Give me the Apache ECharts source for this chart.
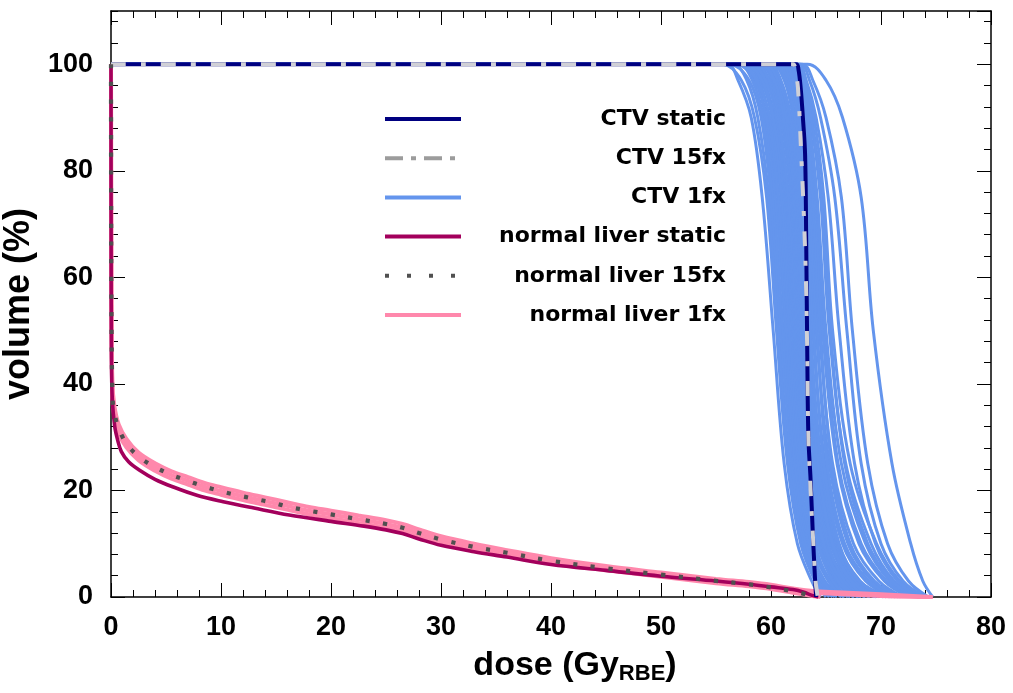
<!DOCTYPE html>
<html>
<head>
<meta charset="utf-8">
<script src="https://cdn.jsdelivr.net/npm/echarts@6/dist/echarts.min.js"></script>
<style>
  html, body { margin: 0; padding: 0; background: #fff; }
  #chart { width: 1013px; height: 693px; }
</style>
</head>
<body>
<div id="chart"></div>
<script>
// Dose-volume histograms: CTV and normal liver, static vs. 15 fractions vs. single fractions

const FONT = '"Liberation Sans", Arial, Helvetica, sans-serif';
const LEGEND_FONT = '"DejaVu Sans", "Liberation Sans", sans-serif';

// CTV static plan
const ctvStaticDose = [0, 62.3, 62.5, 62.7, 62.9, 63.1, 63.2, 63.3, 63.4, 63.6, 63.8, 64.0, 64.1];
const ctvStaticVol  = [100, 100, 99, 95.5, 90, 83, 67, 45, 30, 22, 12, 3.5, 0];

// CTV accumulated over 15 fractions
const ctv15Dose = [0, 62.0, 62.2, 62.45, 62.75, 63.0, 63.17, 63.3, 63.4, 63.6, 63.85, 64.05, 64.25];
const ctv15Vol  = [100, 100, 99, 95.6, 83, 71, 60, 45, 30, 20, 10, 3, 0];

// CTV single fractions: dose (Gy) reached at each volume level
const ctv1fxLevels = [100, 97, 90, 75, 50, 25, 10, 3, 0];
const ctv1fxDoses = [
  [56.0, 57.0, 58.2, 59.2, 60.2, 61.2, 62.4, 63.7, 64.5],
  [55.6, 57.3, 58.5, 59.6, 60.5, 61.5, 62.7, 64.0, 65.0],
  [56.5, 57.8, 58.8, 59.8, 60.7, 61.7, 62.9, 64.2, 65.3],
  [56.2, 58.0, 59.1, 60.0, 60.9, 61.9, 63.0, 64.4, 65.6],
  [57.0, 58.3, 59.3, 60.2, 61.1, 62.1, 63.2, 64.6, 66.0],
  [56.8, 58.5, 59.5, 60.4, 61.3, 62.2, 63.4, 64.9, 66.4],
  [57.3, 58.6, 59.6, 60.6, 61.4, 62.4, 63.5, 64.8, 65.8],
  [57.5, 58.9, 59.8, 60.7, 61.6, 62.5, 63.7, 65.2, 66.7],
  [57.1, 58.7, 59.9, 60.9, 61.7, 62.7, 63.9, 65.4, 67.2],
  [57.8, 59.1, 60.1, 61.0, 61.9, 62.8, 64.0, 65.3, 66.6],
  [58.0, 59.3, 60.3, 61.2, 62.0, 63.0, 64.2, 65.8, 67.5],
  [57.6, 59.2, 60.2, 61.3, 62.1, 63.1, 64.4, 66.0, 67.9],
  [58.3, 59.6, 60.5, 61.4, 62.2, 63.2, 64.3, 65.6, 67.0],
  [58.1, 59.5, 60.6, 61.5, 62.3, 63.3, 64.6, 66.3, 68.2],
  [58.6, 59.8, 60.7, 61.6, 62.4, 63.4, 64.7, 66.1, 67.6],
  [58.4, 59.9, 60.9, 61.8, 62.5, 63.5, 64.9, 66.6, 68.6],
  [58.9, 60.1, 61.0, 61.9, 62.6, 63.6, 64.8, 66.4, 68.0],
  [58.7, 60.2, 61.1, 62.0, 62.7, 63.7, 65.1, 66.9, 69.0],
  [59.2, 60.4, 61.3, 62.1, 62.8, 63.8, 65.2, 66.7, 68.5],
  [59.0, 60.3, 61.2, 62.2, 62.9, 63.9, 65.4, 67.2, 69.4],
  [59.4, 60.6, 61.4, 62.3, 63.0, 64.0, 65.5, 67.0, 68.9],
  [59.6, 60.8, 61.6, 62.4, 63.1, 64.1, 65.6, 67.5, 69.8],
  [59.3, 60.7, 61.7, 62.5, 63.2, 64.2, 65.8, 67.8, 70.2],
  [59.8, 60.9, 61.8, 62.6, 63.3, 64.3, 65.9, 67.6, 69.5],
  [60.0, 61.2, 62.0, 62.7, 63.4, 64.3, 65.6, 67.3, 69.6],
  [60.2, 61.3, 62.1, 62.8, 63.5, 64.5, 66.0, 68.0, 70.5],
  [60.4, 61.4, 62.2, 63.0, 63.6, 64.6, 66.1, 68.1, 70.3],
  [60.6, 61.6, 62.4, 63.1, 63.8, 64.9, 66.5, 68.6, 71.0],
  [60.8, 61.8, 62.5, 63.2, 63.9, 64.8, 66.2, 68.0, 70.8],
  [61.0, 62.0, 62.7, 63.4, 64.1, 65.3, 67.0, 69.2, 71.6],
  [61.1, 62.1, 62.8, 63.5, 64.2, 65.1, 66.7, 68.9, 71.3],
  [61.3, 62.3, 63.0, 63.7, 64.4, 65.6, 67.5, 69.8, 72.0],
  [61.4, 62.4, 63.1, 63.8, 64.5, 65.5, 67.2, 69.4, 71.8],
  [61.5, 62.5, 63.2, 64.0, 64.7, 66.0, 68.0, 70.3, 72.5],
  [61.7, 62.6, 63.3, 64.1, 64.9, 66.1, 68.2, 70.5, 72.6],
  [61.8, 62.6, 63.4, 64.2, 65.0, 66.4, 68.6, 70.8, 73.0],
  [62.0, 62.8, 63.6, 64.5, 65.3, 66.8, 69.1, 71.2, 73.4],
  [62.1, 62.9, 63.7, 64.6, 65.4, 66.7, 68.8, 71.0, 73.1],
  [62.2, 63.0, 63.9, 64.8, 65.6, 67.2, 69.6, 71.7, 73.8],
  [62.4, 63.2, 64.1, 65.2, 66.2, 67.6, 69.5, 71.5, 73.5],
  [62.6, 63.5, 64.5, 65.8, 66.9, 68.2, 70.0, 72.0, 74.0],
  [62.8, 63.8, 65.0, 66.4, 67.4, 68.8, 70.6, 72.5, 74.3],
  [63.3, 65.0, 66.5, 68.2, 69.3, 71.0, 72.7, 73.8, 74.7]
];

// Normal liver static plan
const liverStaticDose = [0, 0.01, 0.04, 0.12, 0.34, 0.6, 0.94, 1.6, 2.6, 4.0, 5.6, 7.8, 10.2, 13.0, 16.2, 20.0, 23.0, 25.0, 26.5, 28.0, 30.0, 33.0, 36.0, 40.0, 45.0, 50.0, 55.0, 58.0, 60.0, 62.0, 63.0, 63.6, 64.3];
const liverStaticVol  = [100, 70, 45, 37, 32, 29.5, 27.3, 25.4, 23.8, 22.1, 20.7, 19.1, 17.9, 16.7, 15.4, 14.2, 13.3, 12.6, 11.9, 10.9, 9.7, 8.5, 7.5, 6.1, 5.0, 3.9, 3.0, 2.4, 1.9, 1.4, 0.9, 0.4, 0];

// Normal liver accumulated over 15 fractions
const liver15Dose = [0, 0.03, 0.12, 0.25, 0.64, 1.4, 2.5, 3.8, 5.3, 6.85, 8.4, 9.9, 11.5, 13.1, 14.7, 16.2, 18.0, 20.0, 22.5, 25.0, 26.5, 28.0, 30.0, 33.0, 36.0, 40.0, 45.0, 50.0, 54.7, 57.9, 59.5, 61.1, 62.7, 63.5, 64.2];
const liver15Vol  = [100, 60, 38.5, 35.2, 32, 28.8, 26.4, 24.6, 23.1, 21.9, 20.8, 19.9, 19.1, 18.4, 17.7, 16.9, 16.2, 15.5, 14.6, 13.7, 13.0, 12.0, 10.8, 9.4, 8.3, 6.8, 5.4, 4.2, 3.1, 2.4, 1.95, 1.4, 0.75, 0.3, 0];

// Normal liver single fractions: upper, middle and lower edge of the band, plus high-dose tails
const liver1fxDose  = [0, 0.03, 0.12, 0.3, 0.7, 1.4, 2.5, 4.0, 5.5, 7.0, 8.5, 10.0, 12.0, 14.0, 16.0, 18.0, 20.0, 22.5, 25.0, 26.5, 28.0, 30.0, 33.0, 36.0, 40.0, 45.0, 50.0, 55.0, 58.0, 60.0, 62.0, 63.5, 64.5];
const liver1fxVolHi = [100, 64, 40.5, 36.0, 32.4, 29.7, 27.1, 25.1, 23.6, 22.5, 21.4, 20.6, 19.6, 18.7, 17.8, 16.9, 16.2, 15.3, 14.4, 13.7, 12.7, 11.4, 10.0, 8.8, 7.3, 5.8, 4.6, 3.4, 2.8, 2.3, 1.6, 1.0, 0.6];
const liver1fxVolMid = [100, 62, 39, 35, 31.6, 28.9, 26.4, 24.4, 22.9, 21.8, 20.7, 19.9, 18.9, 18.0, 17.1, 16.2, 15.5, 14.6, 13.7, 13.0, 12.0, 10.8, 9.4, 8.3, 6.8, 5.4, 4.2, 3.0, 2.4, 1.9, 1.2, 0.6, 0];
const liver1fxVolLo = [100, 60, 37.5, 34.0, 30.8, 28.1, 25.7, 23.7, 22.2, 21.1, 20.0, 19.2, 18.2, 17.3, 16.4, 15.5, 14.8, 13.9, 13.0, 12.3, 11.3, 10.2, 8.9, 7.8, 6.3, 5.0, 3.8, 2.6, 2.0, 1.5, 0.8, 0.3, 0];
const liver1fxTailDose = [58, 60, 62, 64, 67, 70, 72.5, 74.7];
const liver1fxTailVolA = [2.8, 2.3, 1.6, 1.1, 0.8, 0.5, 0.25, 0];
const liver1fxTailVolB = [2.4, 1.9, 1.2, 0.8, 0.45, 0.2, 0.05, 0];

// Axis ticks
const xTicks = { min: 0, max: 80, major: 10, minorSplit: 5 };
const yTicks = { min: 0, max: 110, major: 20, minor: 4 };

// Legend entries
const legendNames = ['CTV static', 'CTV 15fx', 'CTV 1fx', 'normal liver static', 'normal liver 15fx', 'normal liver 1fx'];

const COLORS = {
  ctvStatic: '#000080',
  ctv15: '#d0d0d6',
  ctv15Legend: '#9c9c9c',
  ctv1fx: '#6495ed',
  liverStatic: '#a3005c',
  liver15: '#505050',
  liver1fx: '#ff88ac'
};

const zip = (xs, ys) => xs.map((x, i) => [x, ys[i]]);

function lineSeries(name, data, style, z) {
  return {
    type: 'line', name: name, data: data,
    showSymbol: false, symbol: 'none', smooth: 0.35,
    lineStyle: style, itemStyle: { color: style.color },
    z: z, silent: true, animation: false,
    xAxisIndex: 0, yAxisIndex: 0
  };
}

const series = [];

// CTV single fractions
ctv1fxDoses.forEach(doses => {
  const pts = [[0, 100]].concat(zip(doses, ctv1fxLevels));
  series.push(lineSeries('CTV 1fx', pts, { color: COLORS.ctv1fx, width: 3 }, 2));
});

// Normal liver single fractions
const pinkStyle = { color: COLORS.liver1fx, width: 4 };
const bodyEnd = liver1fxDose.findIndex(d => d >= liver1fxTailDose[0]);
const withTail = (vols, tail) =>
  zip(liver1fxDose.slice(0, bodyEnd), vols.slice(0, bodyEnd)).concat(zip(liver1fxTailDose, tail));
series.push(lineSeries('normal liver 1fx', withTail(liver1fxVolHi, liver1fxTailVolA), pinkStyle, 3));
series.push(lineSeries('normal liver 1fx', withTail(liver1fxVolMid, liver1fxTailVolB), pinkStyle, 3));
series.push(lineSeries('normal liver 1fx', zip(liver1fxDose, liver1fxVolLo), pinkStyle, 3));

series.push(lineSeries('normal liver static', zip(liverStaticDose, liverStaticVol), { color: COLORS.liverStatic, width: 3.6 }, 4));
series.push(lineSeries('CTV static', zip(ctvStaticDose, ctvStaticVol), { color: COLORS.ctvStatic, width: 4 }, 5));
series.push(lineSeries('CTV 15fx', zip(ctv15Dose, ctv15Vol), { color: COLORS.ctv15, width: 4, type: [15, 15, 5, 15], cap: 'butt' }, 6));
series.push(lineSeries('normal liver 15fx', zip(liver15Dose, liver15Vol), { color: COLORS.liver15, width: 4.2, type: [4.2, 13.5], cap: 'butt' }, 7));

const tickStyle = { color: '#000', width: 1 };
const axisLine = { show: true, onZero: false, lineStyle: { color: '#000', width: 1.5 } };
const labelStyle = { fontSize: 27, fontWeight: 'bold', color: '#000', fontFamily: FONT };

function xAxis(pos, withLabels) {
  return {
    type: 'value', position: pos, min: xTicks.min, max: xTicks.max, interval: xTicks.major,
    axisLine: axisLine,
    axisTick: { show: true, inside: true, length: 14, lineStyle: tickStyle },
    minorTick: { show: true, splitNumber: xTicks.minorSplit, length: 7, lineStyle: tickStyle },
    splitLine: { show: false }, minorSplitLine: { show: false },
    axisLabel: Object.assign({ show: withLabels, margin: 17 }, labelStyle)
  };
}

function yAxis(pos, interval, tickLen, withLabels, showLine) {
  return {
    type: 'value', position: pos, min: yTicks.min, max: yTicks.max, interval: interval,
    axisLine: Object.assign({}, axisLine, { show: showLine }),
    axisTick: { show: true, inside: true, length: tickLen, lineStyle: tickStyle },
    splitLine: { show: false },
    axisLabel: Object.assign({ show: withLabels, margin: 18, showMaxLabel: false }, labelStyle)
  };
}

const xBottom = xAxis('bottom', true);
xBottom.name = '{m|dose (Gy}{s|RBE}{m|)}';
xBottom.nameLocation = 'middle';
xBottom.nameGap = 50;
xBottom.nameTextStyle = {
  padding: [0, 0, 0, 48],
  rich: {
    m: { fontSize: 34, fontWeight: 'bold', color: '#000', fontFamily: FONT },
    s: { fontSize: 22, fontWeight: 'bold', color: '#000', fontFamily: FONT, padding: [16, 0, 0, 0] }
  }
};

const yLeft = yAxis('left', yTicks.major, 14, true, true);
yLeft.name = 'volume (%)';
yLeft.nameLocation = 'middle';
yLeft.nameGap = 50;
yLeft.nameTextStyle = { fontSize: 36, fontWeight: 'bold', color: '#000', fontFamily: FONT };

const legendData = legendNames.map(n => {
  const item = { name: n, itemStyle: { opacity: 0 } };
  if (n === 'CTV 15fx') item.lineStyle = { color: COLORS.ctv15Legend, width: 4, type: [18, 8, 5, 8], cap: 'butt' };
  else if (n === 'normal liver 15fx') item.lineStyle = { width: 4, type: [4, 18], cap: 'butt' };
  else item.lineStyle = { width: 4 };
  return item;
});

const chart = echarts.init(document.getElementById('chart'), null, { renderer: 'canvas' });
chart.setOption({
  backgroundColor: '#fff',
  animation: false,
  grid: { left: 111, top: 11, width: 880, height: 586, containLabel: false, outerBoundsMode: 'none' },
  xAxis: [xBottom, xAxis('top', false)],
  yAxis: [
    yLeft,
    yAxis('left', yTicks.minor, 7, false, false),
    yAxis('right', yTicks.major, 14, false, true),
    yAxis('right', yTicks.minor, 7, false, false)
  ],
  legend: {
    show: true, orient: 'vertical', left: 383, top: 108, padding: 0,
    itemWidth: 76, itemHeight: 14, itemGap: 17.2,
    selectedMode: false,
    data: legendData,
    formatter: name => '{t|' + name + '}',
    textStyle: {
      fontSize: 22, fontWeight: 'bold', color: '#000', fontFamily: LEGEND_FONT,
      rich: { t: { width: 260, align: 'right', fontSize: 22, fontWeight: 'bold', color: '#000', fontFamily: LEGEND_FONT, lineHeight: 24 } }
    }
  },
  series: series
});
</script>
</body>
</html>
